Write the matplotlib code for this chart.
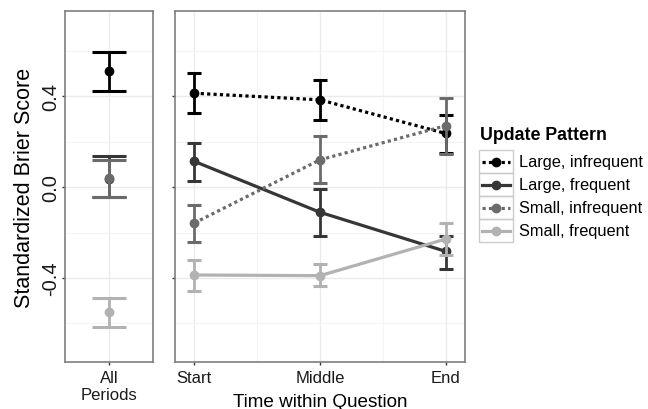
import numpy as np
import matplotlib
matplotlib.use("Agg")
import matplotlib.pyplot as plt
from matplotlib.patches import Rectangle
from matplotlib.lines import Line2D

plt.rcParams['font.family'] = ['Liberation Sans', 'DejaVu Sans']

periods = ["Start", "Middle", "End"]
series = ["Large, infrequent", "Large, frequent", "Small, infrequent", "Small, frequent"]
colors = ["#000000", "#363636", "#6b6b6b", "#b2b2b2"]
styles = [(0, (1, 1)), "-", (0, (1, 1)), "-"]

# all periods pooled
all_mean = [0.51, 0.035, 0.04, -0.55]
all_lo = [0.425, -0.045, -0.045, -0.615]
all_hi = [0.595, 0.135, 0.12, -0.49]

# by time within question
time_mean = [
    [0.413, 0.384, 0.236],
    [0.113, -0.111, -0.283],
    [-0.158, 0.12, 0.27],
    [-0.387, -0.39, -0.229],
]
time_lo = [
    [0.325, 0.296, 0.149],
    [0.025, -0.214, -0.36],
    [-0.24, 0.02, 0.145],
    [-0.456, -0.437, -0.299],
]
time_hi = [
    [0.504, 0.472, 0.316],
    [0.196, -0.009, -0.214],
    [-0.078, 0.225, 0.394],
    [-0.32, -0.338, -0.158],
]

W, H = 648, 410
fig = plt.figure(figsize=(W / 100, H / 100), dpi=100)


def px_axes(x0, y0, x1, y1):
    return fig.add_axes([x0 / W, 1 - y1 / H, (x1 - x0) / W, (y1 - y0) / H])


def style_panel(ax):
    ax.set_ylim(-0.77, 0.775)
    ax.set_yticks([-0.4, 0.0, 0.4])
    ax.set_yticks([-0.6, -0.2, 0.2, 0.6], minor=True)
    ax.grid(True, which="major", color="#ebebeb", lw=1.0)
    ax.grid(True, which="minor", color="#f4f4f4", lw=0.8)
    ax.set_axisbelow(True)
    for s in ax.spines.values():
        s.set_color("#7f7f7f")
        s.set_linewidth(1.2)
    ax.tick_params(which="major", length=2.5, width=1, color="#333333",
                   labelsize=12, labelcolor="#1a1a1a", pad=3)
    ax.tick_params(axis="y", labelsize=14.5, pad=1)
    ax.tick_params(which="minor", length=0)


ax1 = px_axes(65, 12, 153, 363)
ax2 = px_axes(175, 12, 465, 363)

# left panel
for i in range(4):
    m = all_mean[i]
    ax1.errorbar([0], [m], yerr=[[m - all_lo[i]], [all_hi[i] - m]],
                 fmt="o", color=colors[i], ms=6, elinewidth=2.0,
                 capsize=12, capthick=2.2, zorder=3 + i)
ax1.set_xlim(-0.6, 0.6)
ax1.set_xticks([0])
ax1.set_xticklabels(["All\nPeriods"], linespacing=1.2)
ax1.grid(True, axis="x", which="major", color="#ebebeb", lw=1.0)
style_panel(ax1)
ax1.set_xticks([], minor=True)
ax1.set_yticklabels(["-0.4", "0.0", "0.4"], rotation=90, va="center")
ax1.set_ylabel("Standardized Brier Score", fontsize=15.5)
ax1.yaxis.set_label_coords(-0.345, 0.5)

# right panel
x = np.arange(len(periods))
for i in range(4):
    m = np.array(time_mean[i])
    lo = m - np.array(time_lo[i])
    hi = np.array(time_hi[i]) - m
    ax2.plot(x, m, color=colors[i], lw=2.3, ls=styles[i], zorder=3 + i)
    ax2.errorbar(x, m, yerr=[lo, hi], fmt="o", color=colors[i], ms=6,
                 elinewidth=2.0, capsize=5.2, capthick=2.2, zorder=3 + i)
ax2.set_xlim(-0.154, 2.154)
ax2.set_xticks(x)
ax2.set_xticks([0.5, 1.5], minor=True)
ax2.set_xticklabels(periods)
style_panel(ax2)
ax2.set_yticklabels([])
ax2.set_xlabel("Time within Question", fontsize=13.6, va="top")
ax2.xaxis.set_label_coords(0.5, -0.088)

# legend drawn by hand in pixel space
lg = fig.add_axes([0, 0, 1, 1], facecolor="none")
lg.set_xlim(0, W)
lg.set_ylim(H, 0)
lg.axis("off")
lg.text(480, 136, "Update Pattern", fontsize=12.8, fontweight="bold",
        va="center", ha="left")
for i, name in enumerate(series):
    y0 = 151 + i * 23
    lg.add_patch(Rectangle((479, y0), 34, 23, fill=False, ec="#cccccc", lw=1.0))
    lg.add_line(Line2D([482, 510], [y0 + 11.5] * 2, color=colors[i], lw=2.3,
                       ls=styles[i]))
    lg.plot([496], [y0 + 11.5], "o", color=colors[i], ms=6)
    lg.text(519, y0 + 11.5, name, fontsize=11.8, va="center", ha="left")

fig.savefig("out.png", dpi=100)
